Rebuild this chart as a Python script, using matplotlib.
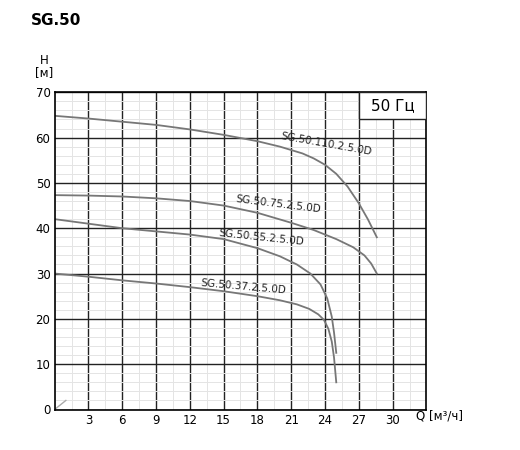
import matplotlib.pyplot as plt
import numpy as np

# curves (Q m3/h, H m)
q110 = [0, 3, 6, 9, 12, 15, 18, 20, 22, 23, 24, 25, 26, 27, 27.8, 28.6]
h110 = [64.8, 64.2, 63.5, 62.8, 61.8, 60.6, 59.2, 58.0, 56.5, 55.4, 54.0, 52.0, 49.2, 45.5, 42.0, 38.0]
q75 = [0, 3, 6, 9, 12, 15, 18, 21, 23, 25, 26.5, 27.5, 28.1, 28.6]
h75 = [47.3, 47.2, 47.0, 46.6, 46.0, 45.0, 43.4, 41.2, 39.6, 37.6, 35.8, 34.0, 32.2, 30.0]
q55 = [0, 3, 6, 9, 12, 15, 18, 20, 21.5, 22.7, 23.6, 24.2, 24.6, 24.8, 25.0]
h55 = [42.0, 41.0, 40.0, 39.3, 38.6, 37.6, 35.6, 33.8, 32.0, 30.0, 27.6, 24.5, 20.5, 17.0, 12.5]
q37 = [0, 3, 6, 9, 12, 15, 18, 20, 21.5, 22.6, 23.4, 23.9, 24.3, 24.6, 24.8, 25.0]
h37 = [30.0, 29.3, 28.5, 27.8, 27.0, 26.1, 25.0, 24.1, 23.2, 22.2, 21.0, 19.8, 17.8, 15.0, 11.5, 6.0]

names = ['SG.50.110.2.5.0D', 'SG.50.75.2.5.0D', 'SG.50.55.2.5.0D', 'SG.50.37.2.5.0D']
label_pos = [(20.0, 59.3, -10), (16.0, 45.4, -7), (14.5, 37.9, -6), (12.9, 26.9, -5)]
xticks = [3, 6, 9, 12, 15, 18, 21, 24, 27, 30]
yticks = [0, 10, 20, 30, 40, 50, 60, 70]

fig = plt.figure(figsize=(5.2, 4.5), dpi=100)
ax = fig.add_axes([0.105, 0.09, 0.715, 0.705])
ax.set_xlim(0, 33)
ax.set_ylim(0, 70)

ax.set_xticks(np.arange(0, 33.1, 1.5), minor=True)
ax.set_yticks(np.arange(0, 70.1, 2), minor=True)
ax.set_xticks(xticks)
ax.set_yticks(yticks)
ax.grid(which='minor', color='#e4e4e4', lw=0.7)
ax.grid(which='major', color='#222222', lw=1.0)
ax.tick_params(which='both', length=0, labelsize=8.5, pad=3)
for s in ax.spines.values():
    s.set_linewidth(1.2)

for q, h in [(q110, h110), (q75, h75), (q55, h55), (q37, h37)]:
    ax.plot(q, h, color='#777777', lw=1.3)
ax.plot([0, 1], [0, 2], color='#aaaaaa', lw=1)

for n, (x, y, r) in zip(names, label_pos):
    ax.text(x, y, n, fontsize=7.5, rotation=r, rotation_mode='anchor',
            ha='left', va='bottom', color='#222222')

ax.add_patch(plt.Rectangle((27, 64), 6, 6, facecolor='white', edgecolor='#222222', lw=1.0, zorder=3))
ax.text(30, 67, '50 Гц', fontsize=11, ha='center', va='center', zorder=4)

fig.text(0.06, 0.945, 'SG.50', fontsize=11, fontweight='bold')
fig.text(0.085, 0.83, 'H\n[м]', fontsize=8.5, ha='center', linespacing=0.9)
fig.text(0.8, 0.068, 'Q [м³/ч]', fontsize=8.5, ha='left')

fig.savefig('out.png', dpi=100)
